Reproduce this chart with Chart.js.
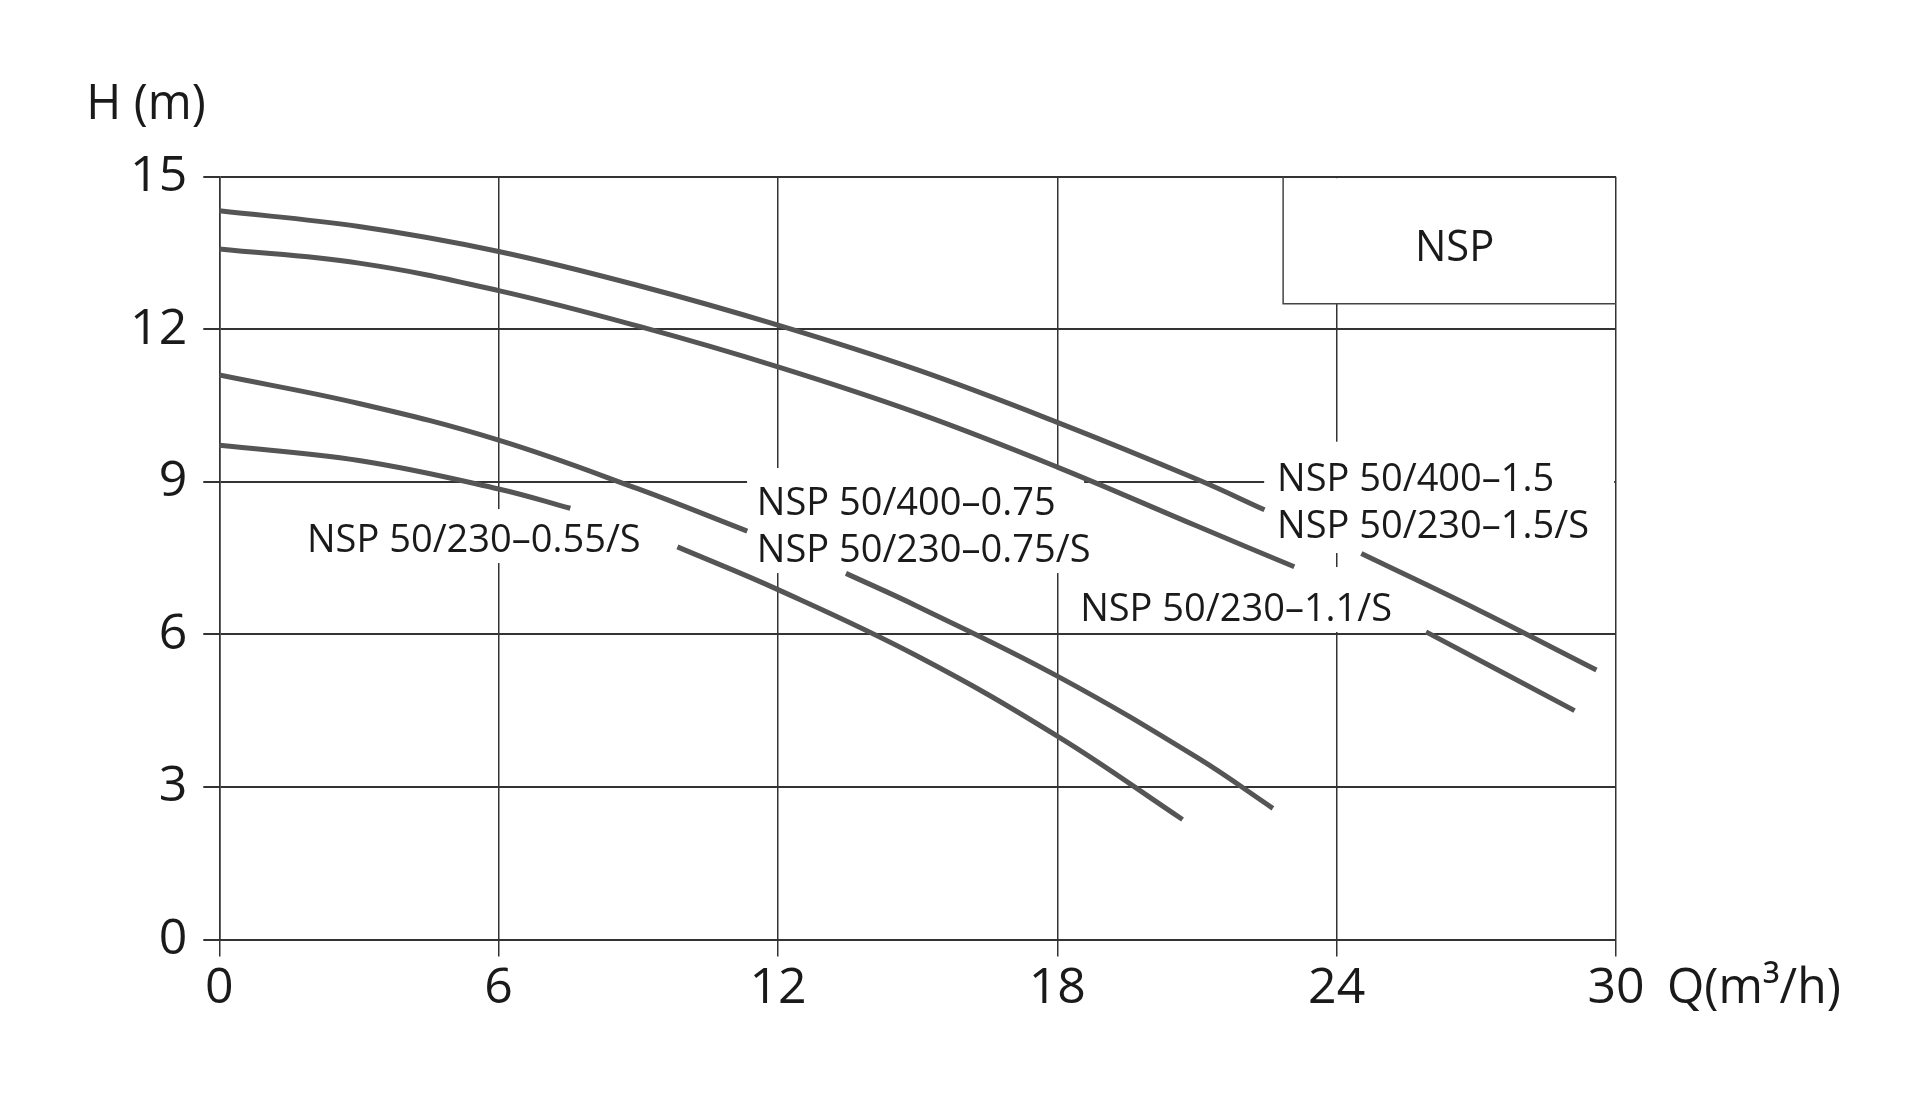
<!DOCTYPE html>
<html>
<head>
<meta charset="utf-8">
<script src="https://cdn.jsdelivr.net/npm/chart.js@4.4.1/dist/chart.umd.min.js"></script>
<style>
  html, body { margin: 0; padding: 0; background: #ffffff; }
  #wrap { width: 1910px; height: 1110px; position: relative; }
</style>
</head>
<body>
<div id="wrap"><canvas id="c"></canvas></div>
<script>
// ---- Data (Q in m³/h, H in m); null marks the break where a label sits ----
const qA = [0, 3, 6, 9, 12, 15, 18, 21, 22.45, 23.5, 24.53, 27, 29.58];
const hA = [14.33, 14.02, 13.53, 12.86, 12.08, 11.2, 10.17, 9.05, 8.45, null, 7.59, 6.5, 5.30];

const qB = [0, 3, 6, 9, 12, 15, 18, 21, 23.09, 24.5, 25.92, 29.11];
const hB = [13.58, 13.30, 12.76, 12.06, 11.26, 10.35, 9.29, 8.13, 7.33, null, 6.05, 4.50];

const qC = [0, 3, 6, 9, 11.34, 12.4, 13.46, 15, 18, 21, 22.63];
const hC = [11.10, 10.54, 9.82, 8.86, 8.03, null, 7.20, 6.55, 5.18, 3.58, 2.58];

const qD = [0, 3, 6, 7.54, 8.7, 9.84, 12, 15, 18, 20.69];
const hD = [9.72, 9.42, 8.86, 8.48, null, 7.72, 6.88, 5.57, 4.0, 2.36];

const xTicks = [0, 6, 12, 18, 24, 30];
const yTicks = [0, 3, 6, 9, 12, 15];

const curveNames = ['NSP 50/400-1.5', 'NSP 50/230-1.1/S', 'NSP 50/400-0.75', 'NSP 50/230-0.55/S'];

// Label texts (each entry: lines, anchor Q, baseline H of each line)
const labelLines = [
  ['NSP 50/230\u20130.55/S'],
  ['NSP 50/400\u20130.75', 'NSP 50/230\u20130.75/S'],
  ['NSP 50/230\u20131.1/S'],
  ['NSP 50/400\u20131.5', 'NSP 50/230\u20131.5/S']
];
const labelQ = [1.884, 11.545, 18.49, 22.72];
const labelH = [[7.619], [8.347, 7.429], [6.262], [8.825, 7.895]];

// White knock-out boxes behind labels: [Qleft, Qright, Htop, Hbottom]
const maskBoxes = [
  [1.669, 9.832, 8.465, 7.403],
  [11.336, 18.576, 9.271, 8.111],
  [11.336, 18.92, 8.347, 7.206],
  [18.276, 25.365, 7.324, 6.046],
  [22.443, 29.96, 9.789, 7.600]
];
const titleBox = [22.85, 30, 15, 12.5];
const titleText = 'NSP';

function pts(q, h) { return q.map((v, i) => ({ x: v, y: h[i] })); }

const FONT = '"Open Sans", "Noto Sans", sans-serif';
const INK = '#1a1a1a';
const GRID = '#333333';
const CURVE = '#555555';

const overlay = {
  id: 'overlay',
  beforeDatasetsDraw(chart) {
    const { ctx, scales: { x, y } } = chart;
    ctx.save();
    ctx.fillStyle = '#ffffff';
    maskBoxes.forEach(b => {
      const x1 = x.getPixelForValue(b[0]), x2 = x.getPixelForValue(b[1]);
      const y1 = y.getPixelForValue(b[2]), y2 = y.getPixelForValue(b[3]);
      ctx.fillRect(x1, y1, x2 - x1, y2 - y1);
    });
    // title box
    const bx1 = x.getPixelForValue(titleBox[0]), bx2 = x.getPixelForValue(titleBox[1]);
    const by1 = y.getPixelForValue(titleBox[2]), by2 = y.getPixelForValue(titleBox[3]);
    ctx.fillRect(bx1, by1 + 1.5, bx2 - bx1 - 1.5, by2 - by1 - 1.5);
    ctx.strokeStyle = '#444444';
    ctx.lineWidth = 1.5;
    ctx.beginPath();
    ctx.moveTo(bx1, by1);
    ctx.lineTo(bx1, by2);
    ctx.lineTo(bx2, by2);
    ctx.stroke();
    ctx.restore();
  },
  afterDatasetsDraw(chart) {
    const { ctx, scales: { x, y }, chartArea } = chart;
    ctx.save();
    ctx.fillStyle = INK;
    ctx.textBaseline = 'alphabetic';
    ctx.textAlign = 'left';
    // curve labels
    ctx.font = '38px ' + FONT;
    labelLines.forEach((lines, i) => {
      lines.forEach((t, j) => {
        const px = x.getPixelForValue(labelQ[i]);
        const py = y.getPixelForValue(labelH[i][j]);
        ctx.fillText(t, px, py);
      });
    });
    // title in box
    ctx.font = '43px ' + FONT;
    ctx.textAlign = 'center';
    const cx = (x.getPixelForValue(titleBox[0]) + x.getPixelForValue(titleBox[1])) / 2 + 5;
    ctx.save();
    ctx.translate(cx, y.getPixelForValue(titleBox[2]) + 84);
    ctx.scale(0.97, 1);
    ctx.fillText(titleText, 0, 0);
    ctx.restore();
    // axis titles
    ctx.font = '50px ' + FONT;
    ctx.textAlign = 'left';
    ctx.save();
    ctx.translate(chartArea.left - 133, chartArea.top - 58);
    ctx.scale(0.95, 1);
    ctx.fillText('H (m)', 0, 0);
    ctx.restore();
    ctx.save();
    ctx.translate(chartArea.right + 51, chartArea.bottom + 63.5);
    ctx.scale(0.96, 1);
    ctx.fillText('Q(m\u00B3/h)', 0, 0);
    ctx.restore();
    ctx.restore();
  }
};

const ds = (q, h, name) => ({
  label: name,
  data: pts(q, h),
  borderColor: CURVE,
  borderWidth: 5,
  pointRadius: 0,
  fill: false,
  spanGaps: false,
  tension: 0.4,
  borderCapStyle: 'butt'
});

new Chart(document.getElementById('c'), {
  type: 'line',
  data: {
    datasets: [
      ds(qA, hA, curveNames[0]),
      ds(qB, hB, curveNames[1]),
      ds(qC, hC, curveNames[2]),
      ds(qD, hD, curveNames[3])
    ]
  },
  options: {
    responsive: true,
    maintainAspectRatio: false,
    animation: false,
    devicePixelRatio: 1,
    layout: { padding: { top: 176.7, right: 294, left: 0, bottom: 0 } },
    plugins: { legend: { display: false }, tooltip: { enabled: false } },
    scales: {
      x: {
        type: 'linear',
        min: 0, max: 30,
        afterBuildTicks: s => { s.ticks = xTicks.map(v => ({ value: v })); },
        afterFit: s => { s.height = 170.5; },
        grid: { color: GRID, lineWidth: 1.5, tickLength: 17, drawTicks: true },
        border: { color: GRID, width: 2 },
        ticks: { color: INK, font: { family: FONT, size: 50 }, padding: 2, maxRotation: 0 }
      },
      y: {
        type: 'linear',
        min: 0, max: 15,
        afterBuildTicks: s => { s.ticks = yTicks.map(v => ({ value: v })); },
        afterFit: s => { s.width = 219.3; },
        grid: { color: GRID, lineWidth: 2, tickLength: 16, drawTicks: true },
        border: { color: GRID, width: 1.5 },
        ticks: { color: INK, font: { family: FONT, size: 50 }, padding: 16 }
      }
    }
  },
  plugins: [overlay]
});
</script>
</body>
</html>
